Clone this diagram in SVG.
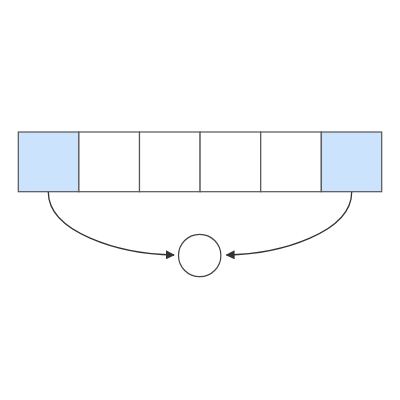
<svg xmlns="http://www.w3.org/2000/svg" width="400" height="400" viewBox="0 0 400 400">
<defs>
<style>
.cell{stroke:#555;stroke-width:1.2;fill:#fff}
.hl{fill:#cce3fd}
.edge{fill:none;stroke:#333;stroke-width:1.3}
.node{fill:#fff;stroke:#444;stroke-width:1.2}
</style>
<marker id="arr" viewBox="0 0 10 10" refX="9" refY="5" markerWidth="9" markerHeight="9" markerUnits="userSpaceOnUse" orient="auto">
<path d="M0,0 L10,5 L0,10 z" fill="#333"/>
</marker>
</defs>
<rect width="400" height="400" fill="#fff"/>
<g id="cell0"><rect class="cell hl" x="18.3" y="132" width="60.6" height="59.7"/></g>
<g id="cell1"><rect class="cell" x="78.9" y="132" width="60.6" height="59.7"/></g>
<g id="cell2"><rect class="cell" x="139.5" y="132" width="60.6" height="59.7"/></g>
<g id="cell3"><rect class="cell" x="200.1" y="132" width="60.6" height="59.7"/></g>
<g id="cell4"><rect class="cell" x="260.7" y="132" width="60.6" height="59.7"/></g>
<g id="cell5"><rect class="cell hl" x="321.3" y="132" width="60.4" height="59.7"/></g>
<g id="circle"><circle class="node" cx="199.7" cy="255.5" r="21.2"/></g>
<g id="connectors">
<path class="edge" d="M48.3,192 C48.3,232 118,254 174,255" marker-end="url(#arr)"/>
<path class="edge" d="M351.7,192 C351.7,232 282,254 226.5,255" marker-end="url(#arr)"/>
</g>
</svg>
